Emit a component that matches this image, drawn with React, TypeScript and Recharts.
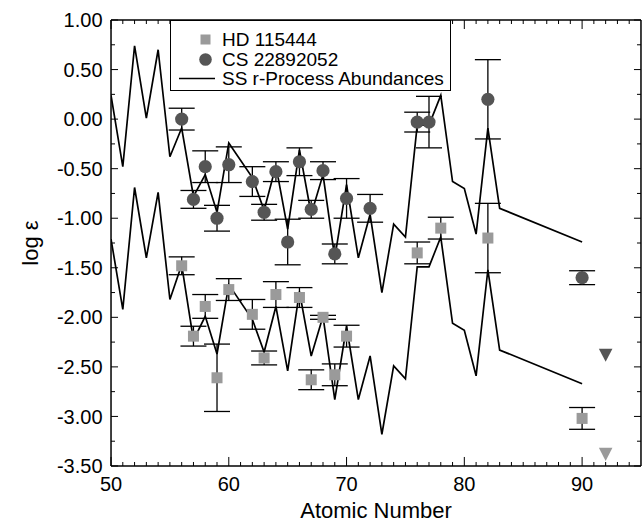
import React from 'react';
import { ComposedChart, Line, Scatter, XAxis, YAxis, ErrorBar, Legend } from 'recharts';

const FONT = '"Liberation Sans", Arial, Helvetica, sans-serif';

// Solar-system r-process abundance pattern (two scalings)
const ssZ = [50, 51, 52, 53, 54, 55, 56, 57, 58, 59, 60, 62, 63, 64, 65, 66, 67, 68, 69, 70, 71, 72, 73, 74, 75, 76, 77, 78, 79, 80, 81, 82, 83, 90];
const ssUpper = [0.24, -0.48, 0.74, 0.01, 0.70, -0.38, -0.09, -0.78, -0.56, -0.94, -0.24, -0.59, -0.92, -0.47, -1.11, -0.31, -0.96, -0.56, -1.40, -0.66, -1.40, -0.96, -1.75, -1.06, -1.19, -0.06, -0.06, 0.24, -0.63, -0.70, -1.16, -0.09, -0.90, -1.24];
const ssLower = [-1.21, -1.92, -0.69, -1.40, -0.74, -1.82, -1.47, -2.23, -1.99, -2.37, -1.67, -2.02, -2.35, -1.89, -2.54, -1.74, -2.39, -1.99, -2.83, -2.09, -2.83, -2.39, -3.18, -2.49, -2.62, -1.49, -1.49, -1.19, -2.06, -2.13, -2.59, -1.52, -2.33, -2.67];

// HD 115444
const hdZ = [56, 57, 58, 59, 60, 62, 63, 64, 66, 67, 68, 69, 70, 76, 78, 82, 90];
const hdVal = [-1.48, -2.19, -1.89, -2.61, -1.72, -1.97, -2.41, -1.77, -1.80, -2.63, -2.00, -2.58, -2.19, -1.35, -1.10, -1.20, -3.02];
const hdErr = [0.09, 0.10, 0.12, 0.34, 0.11, 0.15, 0.07, 0.13, 0.10, 0.10, 0.02, 0.11, 0.11, 0.11, 0.11, 0.35, 0.11];

// CS 22892-052
const csZ = [56, 57, 58, 59, 60, 62, 63, 64, 65, 66, 67, 68, 69, 70, 72, 76, 77, 82, 90];
const csVal = [0.00, -0.81, -0.48, -1.00, -0.46, -0.63, -0.94, -0.53, -1.24, -0.43, -0.91, -0.52, -1.36, -0.80, -0.90, -0.03, -0.03, 0.20, -1.60];
const csErr = [0.11, 0.09, 0.16, 0.13, 0.18, 0.15, 0.08, 0.10, 0.23, 0.14, 0.09, 0.09, 0.10, 0.20, 0.14, 0.10, 0.26, 0.40, 0.07];

// Upper limits (thorium / uranium)
const limitZ = [92];
const csLimit = [-2.38];
const hdLimit = [-3.38];

// Ticks
const xMajorTicks = [50, 60, 70, 80, 90];
const xMinorTicks = [51, 52, 53, 54, 55, 56, 57, 58, 59, 61, 62, 63, 64, 65, 66, 67, 68, 69, 71, 72, 73, 74, 75, 76, 77, 78, 79, 81, 82, 83, 84, 85, 86, 87, 88, 89, 91, 92, 93, 94];
const yMajorTicks = [1, 0.5, 0, -0.5, -1, -1.5, -2, -2.5, -3, -3.5];
const yMinorTicks = [0.75, 0.25, -0.25, -0.75, -1.25, -1.75, -2.25, -2.75, -3.25];

const legendLabels = ['HD 115444', 'CS 22892052', 'SS r-Process Abundances'];
const xTitle = 'Atomic Number';
const yTitle = 'log ε';

const HD_COLOR = '#9a9a9a';
const CS_COLOR = '#555555';

const ssUpperData = ssZ.map((z, i) => ({ z, v: ssUpper[i] }));
const ssLowerData = ssZ.map((z, i) => ({ z, v: ssLower[i] }));
const hdData = hdZ.map((z, i) => ({ z, v: hdVal[i], e: hdErr[i] }));
const csData = csZ.map((z, i) => ({ z, v: csVal[i], e: csErr[i] }));
const csLimitData = limitZ.map((z, i) => ({ z, v: csLimit[i] }));
const hdLimitData = limitZ.map((z, i) => ({ z, v: hdLimit[i] }));

const SquareShape = (p: any) =>
  p.cx == null ? <g /> : <rect x={p.cx - 5.5} y={p.cy - 5.5} width={11} height={11} fill={p.fill} />;
const CircleShape = (p: any) =>
  p.cx == null ? <g /> : <circle cx={p.cx} cy={p.cy} r={6.6} fill={p.fill} />;
const DownTriangle = (p: any) =>
  p.cx == null ? (
    <g />
  ) : (
    <path d={`M${p.cx - 6.8},${p.cy - 6.3}L${p.cx + 6.8},${p.cy - 6.3}L${p.cx},${p.cy + 6.8}Z`} fill={p.fill} />
  );

const NoTick = () => <g />;

const AX = 0.01; // near-zero axis thickness so all axes sit on the plot frame
const tickLineStyle = { stroke: '#000', strokeWidth: 1 };
const axisLineStyle = { stroke: '#000', strokeWidth: 1.5 };
const tickText = { fill: '#000', fontSize: 20, fontFamily: FONT };

const LegendBox = () => (
  <div
    style={{
      boxSizing: 'border-box',
      width: 281,
      height: 71,
      border: '1.3px solid #000',
      background: '#fff',
      fontFamily: FONT,
      fontSize: 19,
      color: '#000',
      paddingTop: 9,
    }}
  >
    {legendLabels.map((label, i) => (
      <div key={label} style={{ display: 'flex', alignItems: 'center', height: 19.4 }}>
        <svg width={51} height={19} style={{ flex: 'none', display: 'block' }}>
          {i === 0 && <rect x={29.5} y={4.5} width={10} height={10} fill={HD_COLOR} />}
          {i === 1 && <circle cx={34.5} cy={9.5} r={6.3} fill={CS_COLOR} />}
          {i === 2 && <line x1={8} y1={9.5} x2={44} y2={9.5} stroke="#000" strokeWidth={1.5} />}
        </svg>
        <span style={{ lineHeight: '19px', whiteSpace: 'nowrap' }}>{label}</span>
      </div>
    ))}
  </div>
);

const XTitle = (props: any) => {
  const vb = props.viewBox || { x: 111, y: 466, width: 530 };
  return (
    <text x={vb.x + vb.width / 2} y={vb.y + 52} textAnchor="middle" fontSize={22} fontFamily={FONT} fill="#000">
      {xTitle}
    </text>
  );
};

const YTitle = (props: any) => {
  const vb = props.viewBox || { x: 111, y: 20, height: 446 };
  const cx = vb.x - 81;
  const cy = vb.y + vb.height / 2;
  return (
    <text
      x={cx}
      y={cy}
      transform={`rotate(-90 ${cx} ${cy})`}
      textAnchor="middle"
      dominantBaseline="central"
      fontSize={22}
      fontFamily={FONT}
      fill="#000"
    >
      {yTitle}
    </text>
  );
};

export default function App() {
  return (
    <div style={{ position: 'absolute', left: 0, top: 0, width: 642, height: 527, overflow: 'hidden', background: '#fff' }}>
      <ComposedChart width={642} height={527} margin={{ top: 20, right: 1, bottom: 61, left: 111 }}>
        {/* bottom axes */}
        <XAxis
          dataKey="z"
          type="number"
          domain={[50, 95]}
          allowDataOverflow
          ticks={xMajorTicks}
          interval={0}
          height={AX}
          tickSize={-9}
          tickMargin={19.5}
          tickLine={tickLineStyle}
          axisLine={axisLineStyle}
          tick={tickText}
          label={XTitle}
        />
        <XAxis
          xAxisId="bm"
          dataKey="z"
          type="number"
          domain={[50, 95]}
          allowDataOverflow
          ticks={xMinorTicks}
          interval={0}
          height={AX}
          tickSize={-4}
          tickLine={tickLineStyle}
          axisLine={false}
          tick={NoTick}
        />
        {/* top axes */}
        <XAxis
          xAxisId="t"
          orientation="top"
          dataKey="z"
          type="number"
          domain={[50, 95]}
          allowDataOverflow
          ticks={xMajorTicks}
          interval={0}
          height={AX}
          tickSize={-9}
          tickLine={tickLineStyle}
          axisLine={axisLineStyle}
          tick={NoTick}
        />
        <XAxis
          xAxisId="tm"
          orientation="top"
          dataKey="z"
          type="number"
          domain={[50, 95]}
          allowDataOverflow
          ticks={xMinorTicks}
          interval={0}
          height={AX}
          tickSize={-4}
          tickLine={tickLineStyle}
          axisLine={false}
          tick={NoTick}
        />
        {/* left axes */}
        <YAxis
          type="number"
          domain={[-3.5, 1]}
          allowDataOverflow
          ticks={yMajorTicks}
          interval={0}
          width={AX}
          tickSize={-7}
          tickMargin={15.5}
          tickLine={tickLineStyle}
          axisLine={axisLineStyle}
          tick={tickText}
          tickFormatter={(v: number) => v.toFixed(2)}
          label={YTitle}
        />
        <YAxis
          yAxisId="lm"
          type="number"
          domain={[-3.5, 1]}
          allowDataOverflow
          ticks={yMinorTicks}
          interval={0}
          width={AX}
          tickSize={-4}
          tickLine={tickLineStyle}
          axisLine={false}
          tick={NoTick}
        />
        {/* right axes */}
        <YAxis
          yAxisId="r"
          orientation="right"
          type="number"
          domain={[-3.5, 1]}
          allowDataOverflow
          ticks={yMajorTicks}
          interval={0}
          width={AX}
          tickSize={-7}
          tickLine={tickLineStyle}
          axisLine={axisLineStyle}
          tick={NoTick}
        />
        <YAxis
          yAxisId="rm"
          orientation="right"
          type="number"
          domain={[-3.5, 1]}
          allowDataOverflow
          ticks={yMinorTicks}
          interval={0}
          width={AX}
          tickSize={-4}
          tickLine={tickLineStyle}
          axisLine={false}
          tick={NoTick}
        />

        <Line
          data={ssUpperData}
          dataKey="v"
          name="SS r-Process Abundances"
          stroke="#000"
          strokeWidth={1.7}
          dot={false}
          activeDot={false}
          isAnimationActive={false}
        />
        <Line
          data={ssLowerData}
          dataKey="v"
          name="SS r-Process (scaled)"
          legendType="none"
          stroke="#000"
          strokeWidth={1.7}
          dot={false}
          activeDot={false}
          isAnimationActive={false}
        />
        <Scatter data={hdData} dataKey="v" name="HD 115444" fill={HD_COLOR} shape={SquareShape} isAnimationActive={false}>
          <ErrorBar dataKey="e" direction="y" width={13} stroke="#000" strokeWidth={1.3} />
        </Scatter>
        <Scatter data={csData} dataKey="v" name="CS 22892052" fill={CS_COLOR} shape={CircleShape} isAnimationActive={false}>
          <ErrorBar dataKey="e" direction="y" width={13} stroke="#000" strokeWidth={1.3} />
        </Scatter>
        <Scatter data={csLimitData} dataKey="v" name="CS 22892052 limit" legendType="none" fill={CS_COLOR} shape={DownTriangle} isAnimationActive={false} />
        <Scatter data={hdLimitData} dataKey="v" name="HD 115444 limit" legendType="none" fill={HD_COLOR} shape={DownTriangle} isAnimationActive={false} />

        <Legend
          layout="vertical"
          align="center"
          verticalAlign="middle"
          wrapperStyle={{ left: 170, top: 20, width: 281, height: 71 }}
          content={() => <LegendBox />}
        />
      </ComposedChart>
    </div>
  );
}
